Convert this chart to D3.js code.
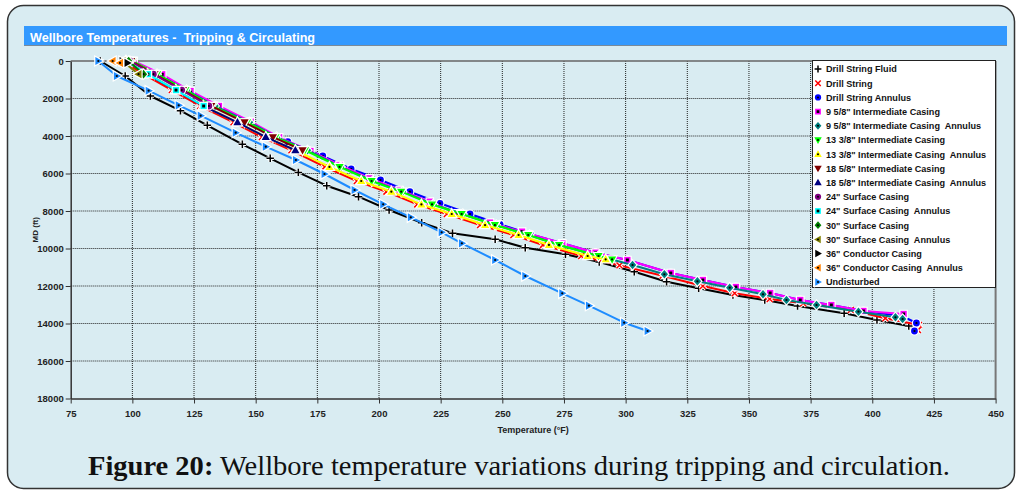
<!DOCTYPE html>
<html>
<head>
<meta charset="utf-8">
<script src="https://cdn.jsdelivr.net/npm/d3@7"></script>
<style>
  body { margin: 0; background: #fff; }
  svg { display: block; font-family: "Liberation Sans", Arial, sans-serif; }
</style>
</head>
<body>
<svg id="chart" width="1019" height="491"></svg>
<script>
// ---- data ----
const seriesNames = [
  'Drill String Fluid', 'Drill String', 'Drill String Annulus',
  '9 5/8" Intermediate Casing', '9 5/8" Intermediate Casing  Annulus',
  '13 3/8" Intermediate Casing', '13 3/8" Intermediate Casing  Annulus',
  '18 5/8" Intermediate Casing', '18 5/8" Intermediate Casing  Annulus',
  '24" Surface Casing', '24" Surface Casing  Annulus',
  '30" Surface Casing', '30" Surface Casing  Annulus',
  '36" Conductor Casing', '36" Conductor Casing  Annulus',
  'Undisturbed'
];

const xTicks = [75, 100, 125, 150, 175, 200, 225, 250, 275, 300, 325, 350, 375, 400, 425, 450];
const yTicks = [0, 2000, 4000, 6000, 8000, 10000, 12000, 14000, 16000, 18000];

// depth grid shared by the upper casing strings (ft)
const casingMD = [0, 700, 1550, 2400, 3270, 4060, 4760, 5650, 6400, 6970, 7650, 8160, 8750, 9280, 9810, 10400, 10580];

const fluidMD = [0, 800, 1867, 2651, 3429, 4443, 5189, 5941, 6651, 7237, 7947, 8624, 9189, 9509, 9957, 10309, 10720, 11237, 11771, 12123, 12480, 12747, 13067, 13456, 13813, 14133, 14300];
const fluidT  = [87, 97.1, 107.3, 119.5, 130.4, 144.6, 155.9, 167.3, 178.8, 191.7, 204.1, 217.3, 229.8, 247.1, 259.3, 275.6, 289.3, 303.5, 316.6, 329.6, 343.5, 356.4, 369.7, 388.6, 401.9, 414.8, 417.5];

const drillStringMD = [0, 700, 1550, 2400, 3270, 4060, 4760, 5650, 6400, 6970, 7650, 8160, 8750, 9280, 9810, 10400, 10900, 11450, 12000, 12389, 12693, 12923, 13280, 13723, 14080, 14350];
const drillStringT  = [96, 104.5, 116, 127.5, 141, 152.5, 164.5, 178, 191, 203, 215.5, 227.5, 241, 254.5, 266.5, 282, 297.5, 315, 331.3, 344.2, 358.4, 372, 391.3, 405.3, 418.9, 418.5];

const annulusMD = [0, 700, 1550, 2400, 3270, 4304, 5067, 5760, 6347, 6971, 7589, 8160, 8709, 9243, 9724, 10224, 10613, 11307, 11680, 12053, 12373, 12747, 13013, 13333, 13600, 13973, 14400];
const annulusT  = [100, 111, 122.5, 134, 147, 163, 177.2, 188.7, 200.6, 212.5, 224.7, 236.9, 249.1, 261.4, 274.3, 287.8, 300.7, 318.3, 331.3, 344.7, 358.6, 370.8, 383.4, 396.4, 412, 417.9, 417.1];

const ic958MD = [0, 710, 1600, 2400, 3237, 4069, 4800, 5547, 6256, 6880, 7504, 8123, 8620, 9100, 9724, 10224, 10613, 11307, 11680, 12053, 12373, 12747, 13013, 13333, 13493];
const ic958T  = [100.5, 112.1, 123.6, 135.1, 148, 159.5, 172.2, 184, 196.2, 208.4, 220.6, 231.9, 245, 258, 274.3, 287.8, 300.7, 318.3, 331.3, 344.7, 358.6, 370.8, 383.4, 396.4, 412.7];

const ica958MD = [0, 700, 1550, 2400, 3270, 4060, 4760, 5650, 6400, 6970, 7650, 8160, 8750, 9280, 9810, 10400, 10880, 11376, 11749, 12091, 12443, 12747, 13013, 13371, 13669, 13760];
const ica958T  = [99, 110, 122, 133.5, 147.5, 158.5, 171, 184.5, 197.5, 209.5, 222, 234, 247.5, 261, 273, 289, 302.8, 315.7, 329.1, 342.2, 355.7, 365.2, 377.4, 394.4, 409.4, 412.3];

const ic1338T  = [100, 110, 121.5, 132.5, 146.5, 158, 170, 184, 197, 209, 221.5, 233.5, 247, 260.5, 273, 289, 294.5];
const ica1338T = [97.5, 106.3, 117.7, 128.9, 142.6, 154.1, 166.1, 179.9, 192.8, 205, 217.2, 229.5, 243, 256.6, 268.9, 284.6, 291.9];
const ic1858T  = [99.5, 109, 120.5, 132, 145.5, 157, 169];
const ica1858T = [97.3, 106, 117.5, 128.7, 142.6, 154.1, 166.1];
const sc24T    = [99, 108.5, 120, 131];
const sca24T   = [97.5, 106.3, 117.7, 128.9];
const sc30T    = [98.5, 104.5];
const sca30T   = [96, 102.5];

const cc36MD  = [0, 100];
const cc36T   = [96, 98];
const cca36MD = [0, 100];
const cca36T  = [92, 95];

const undisturbedMD = [0, 800, 1584, 2363, 2917, 3824, 4571, 5280, 6027, 6880, 7643, 8336, 9136, 9723, 10613, 11467, 12389, 13049, 13957, 14400];
const undisturbedT  = [86.2, 93.7, 106.6, 118.8, 127.7, 141.9, 154.1, 166.3, 177.9, 190.1, 201.7, 212.9, 225.4, 233.6, 247.1, 259.3, 274.3, 285.1, 299.4, 308.9];

const seriesDepths = [fluidMD, drillStringMD, annulusMD, ic958MD, ica958MD, casingMD, casingMD, casingMD, casingMD,
  casingMD, casingMD, casingMD, casingMD, cc36MD, cca36MD, undisturbedMD];
const seriesTemps = [fluidT, drillStringT, annulusT, ic958T, ica958T, ic1338T, ica1338T, ic1858T, ica1858T,
  sc24T, sca24T, sc30T, sca30T, cc36T, cca36T, undisturbedT];

// ---- styles ----
const styles = [
  { color: '#000000', shape: 'plus' },
  { color: '#ff0000', shape: 'x' },
  { color: '#0000ff', shape: 'circle', dot: true },
  { color: '#ff00ff', shape: 'square', dot: true },
  { color: '#008080', shape: 'diamond', dot: true },
  { color: '#00ff00', shape: 'triDown', dot: true },
  { color: '#ffff00', shape: 'triUp', dot: true },
  { color: '#800000', shape: 'triDown' },
  { color: '#000080', shape: 'triUp' },
  { color: '#800080', shape: 'circle', dot: true },
  { color: '#00ffff', shape: 'square', dot: true },
  { color: '#008000', shape: 'diamond', dot: true },
  { color: '#808000', shape: 'triLeft', dot: true },
  { color: '#000000', shape: 'triRight' },
  { color: '#ff8000', shape: 'triLeft', dot: true },
  { color: '#1e8cff', shape: 'triRight', dot: true }
];

function shapePath(kind, s) {
  switch (kind) {
    case 'plus': return `M${-s},0H${s}M0,${-s}V${s}`;
    case 'x': return `M${-s * 0.8},${-s * 0.8}L${s * 0.8},${s * 0.8}M${-s * 0.8},${s * 0.8}L${s * 0.8},${-s * 0.8}`;
    case 'circle': return d3.symbol(d3.symbolCircle, Math.PI * s * s * 0.85)();
    case 'square': return `M${-s * 0.85},${-s * 0.85}H${s * 0.85}V${s * 0.85}H${-s * 0.85}Z`;
    case 'diamond': return `M0,${-s * 1.15}L${s},0L0,${s * 1.15}L${-s},0Z`;
    case 'triUp': return `M0,${-s * 1.15}L${s * 1.1},${s * 0.8}L${-s * 1.1},${s * 0.8}Z`;
    case 'triDown': return `M0,${s * 1.15}L${s * 1.1},${-s * 0.8}L${-s * 1.1},${-s * 0.8}Z`;
    case 'triLeft': return `M${-s * 1.15},0L${s * 0.8},${-s * 1.1}L${s * 0.8},${s * 1.1}Z`;
    case 'triRight': return `M${s * 1.15},0L${-s * 0.8},${-s * 1.1}L${-s * 0.8},${s * 1.1}Z`;
  }
}

function drawMarker(sel, st, s) {
  const stroked = st.shape === 'plus' || st.shape === 'x';
  if (stroked) {
    sel.append('path').attr('d', shapePath(st.shape, s))
      .attr('stroke', '#fff').attr('stroke-width', 3.5).attr('fill', 'none');
    sel.append('path').attr('d', shapePath(st.shape, s))
      .attr('stroke', st.color).attr('stroke-width', 1.5).attr('fill', 'none');
  } else {
    sel.append('path').attr('d', shapePath(st.shape, s))
      .attr('fill', st.color).attr('stroke', '#fff').attr('stroke-width', 2.4)
      .style('paint-order', 'stroke');
    if (st.dot) {
      if (st.shape === 'square') {
        sel.append('rect').attr('x', -s * 0.4).attr('y', -s * 0.4)
          .attr('width', s * 0.8).attr('height', s * 0.8).attr('fill', '#000');
      } else {
        sel.append('circle').attr('r', s * 0.3).attr('fill', '#000');
      }
    }
  }
}

// ---- layout ----
const svg = d3.select('#chart');
const m = { left: 70.7, right: 995.6, top: 61, bottom: 398.5 };

// card
svg.append('rect').attr('x', 7.5).attr('y', 5.5).attr('width', 1007).attr('height', 483)
  .attr('rx', 16).attr('fill', '#d9ecf2').attr('stroke', '#333').attr('stroke-width', 1.5);

// title bar
svg.append('rect').attr('x', 24).attr('y', 26).attr('width', 983).attr('height', 19).attr('fill', '#3399ff');
svg.append('line').attr('x1', 24).attr('x2', 1007).attr('y1', 45.5).attr('y2', 45.5).attr('stroke', '#7a8a99');
svg.append('text').attr('x', 30).attr('y', 41.5).attr('fill', '#fff')
  .attr('font-size', '12.6px').attr('font-weight', 'bold').style('white-space', 'pre')
  .text('Wellbore Temperatures -  Tripping & Circulating');

const x = d3.scaleLinear().domain([75, 450]).range([m.left, m.right]);
const y = d3.scaleLinear().domain([0, 18000]).range([m.top, m.bottom]);

// grid
const grid = svg.append('g');
grid.selectAll('.gx').data(xTicks.slice(1, -1)).join('line')
  .attr('x1', d => x(d)).attr('x2', d => x(d)).attr('y1', m.top).attr('y2', m.bottom)
  .attr('stroke', '#222').attr('stroke-width', 1).attr('stroke-dasharray', '1,1');
grid.selectAll('.gy').data(yTicks.slice(1, -1)).join('line')
  .attr('x1', m.left).attr('x2', m.right).attr('y1', d => y(d)).attr('y2', d => y(d))
  .attr('stroke', '#222').attr('stroke-width', 1).attr('stroke-dasharray', '1,1');

// frame
svg.append('line').attr('x1', m.left).attr('x2', m.right).attr('y1', m.top).attr('y2', m.top)
  .attr('stroke', '#666').attr('stroke-width', 1.5);
svg.append('line').attr('x1', m.right).attr('x2', m.right).attr('y1', m.top).attr('y2', m.bottom)
  .attr('stroke', '#777').attr('stroke-width', 2);

// axes
const xAxis = svg.append('g').attr('transform', `translate(0,${m.bottom})`)
  .call(d3.axisBottom(x).tickValues(xTicks).tickSize(5).tickSizeOuter(0).tickPadding(7));
const yAxis = svg.append('g').attr('transform', `translate(${m.left},0)`)
  .call(d3.axisLeft(y).tickValues(yTicks).tickSize(5).tickSizeOuter(0).tickPadding(2).tickFormat(d3.format('d')));
[xAxis, yAxis].forEach(a => {
  a.select('.domain').attr('stroke', '#333').attr('stroke-width', 1.5);
  a.selectAll('.tick line').attr('stroke', '#333').attr('stroke-width', 1);
  a.selectAll('text').attr('fill', '#222').attr('font-size', '9.5px').attr('font-weight', 'bold')
    .attr('font-family', '"Liberation Sans", Arial, sans-serif');
});

svg.append('text').attr('x', (m.left + m.right) / 2).attr('y', 433)
  .attr('text-anchor', 'middle').attr('font-size', '9px').attr('font-weight', 'bold').attr('fill', '#222')
  .text('Temperature (°F)');
svg.append('text').attr('transform', `translate(38,${(m.top + m.bottom) / 2}) rotate(-90)`)
  .attr('text-anchor', 'middle').attr('font-size', '8px').attr('font-weight', 'bold').attr('fill', '#222')
  .text('MD (ft)');

// series
const line = d3.line().x(d => x(d.t)).y(d => y(d.md));
const plot = svg.append('g');
seriesNames.forEach((name, i) => {
  const pts = seriesTemps[i].map((t, k) => ({ t, md: seriesDepths[i][k] }));
  const st = styles[i];
  const g = plot.append('g');
  g.append('path').datum(pts).attr('d', line)
    .attr('fill', 'none').attr('stroke', st.color).attr('stroke-width', 2).attr('stroke-linejoin', 'round');
  g.selectAll('g.mk').data(pts).join('g').attr('class', 'mk')
    .attr('transform', d => `translate(${x(d.t)},${y(d.md)})`)
    .each(function () { drawMarker(d3.select(this), st, 3.7); });
});

// legend
const lg = svg.append('g');
lg.append('rect').attr('x', 812.5).attr('y', 60.5).attr('width', 183).attr('height', 227)
  .attr('fill', '#fff').attr('stroke', '#222').attr('stroke-width', 1);
seriesNames.forEach((name, i) => {
  const cy = 69 + i * 14.2;
  const row = lg.append('g').attr('transform', `translate(818,${cy})`);
  drawMarker(row, styles[i], 3.4);
  lg.append('text').attr('x', 826).attr('y', cy + 3.3)
    .attr('font-size', '9.1px').attr('font-weight', 'bold').attr('fill', '#111')
    .style('white-space', 'pre').text(name);
});

// caption
const cap = svg.append('text').attr('x', 519).attr('y', 475).attr('text-anchor', 'middle')
  .attr('font-family', '"Liberation Serif", "DejaVu Serif", serif').attr('font-size', '28px').attr('fill', '#111');
cap.append('tspan').attr('font-weight', 'bold').text('Figure 20:');
cap.append('tspan').text(' Wellbore temperature variations during tripping and circulation.');
cap.attr('textLength', 862).attr('lengthAdjust', 'spacingAndGlyphs');
</script>
</body>
</html>
